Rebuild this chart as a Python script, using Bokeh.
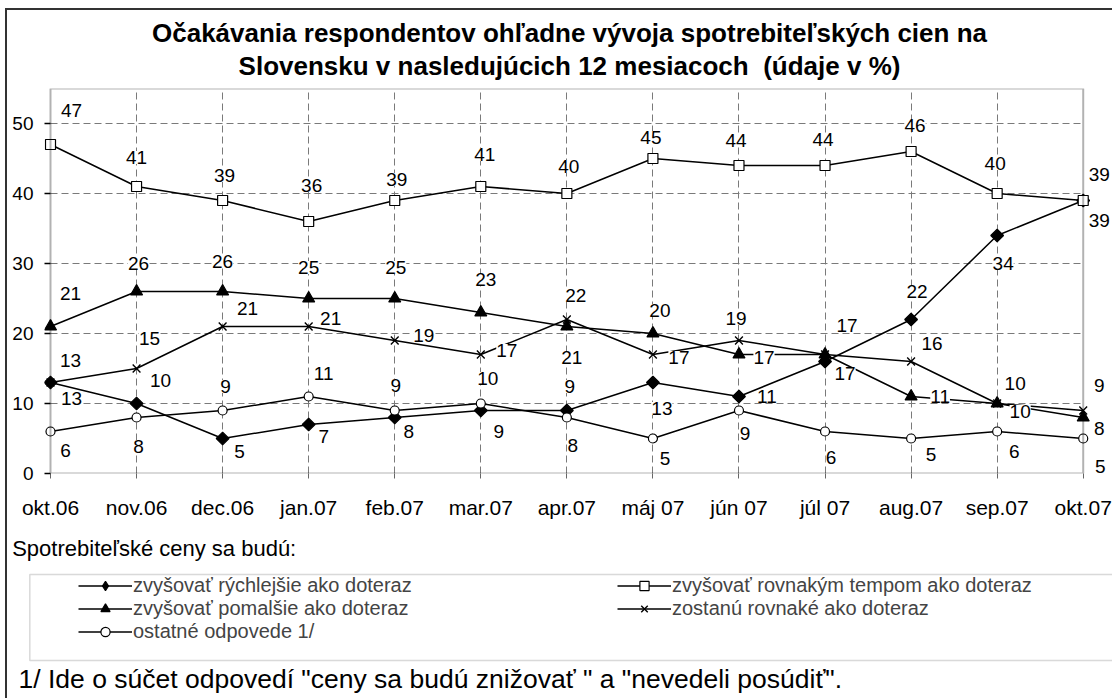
from bokeh.plotting import figure
from bokeh.models import (ColumnDataSource, LabelSet, Label, Legend, LegendItem,
                          BoxAnnotation, FixedTicker, Range1d)
from bokeh.layouts import column, row
from bokeh.embed import file_html
from bokeh.resources import INLINE
from bokeh.core.properties import value
import math

# ---------------- data ----------------
months = ["okt.06", "nov.06", "dec.06", "jan.07", "feb.07", "mar.07", "apr.07",
          "máj 07", "jún 07", "júl 07", "aug.07", "sep.07", "okt.07"]
faster = [13, 10, 5, 7, 8, 9, 9, 13, 11, 16, 22, 34, 39]        # zvyšovať rýchlejšie
same_pace = [47, 41, 39, 36, 39, 41, 40, 45, 44, 44, 46, 40, 39]  # rovnakým tempom
slower = [21, 26, 26, 25, 25, 23, 21, 20, 17, 17, 11, 10, 8]      # pomalšie
unchanged = [13, 15, 21, 21, 19, 17, 22, 17, 19, 17, 16, 10, 9]   # zostanú rovnaké
other = [6, 8, 9, 11, 9, 10, 8, 5, 9, 6, 5, 6, 5]                 # ostatné odpovede
y_ticks = [0, 10, 20, 30, 40, 50]
Y_MAX = 55

names = ["zvyšovať rýchlejšie ako doteraz", "zvyšovať rovnakým tempom ako doteraz",
         "zvyšovať pomalšie ako doteraz", "zostanú rovnaké ako doteraz",
         "ostatné odpovede 1/"]
title1 = "Očakávania respondentov ohľadne vývoja spotrebiteľských cien na"
title2 = "Slovensku v nasledujúcich 12 mesiacoch \u00a0(údaje v %)"
subhead = "Spotrebiteľské ceny sa budú:"
footnote = '1/ Ide o súčet odpovedí "ceny sa budú znižovať " a "nevedeli posúdiť".'

# ---------------- label placement (pixel offsets: dx right, dy up) ----------------
pos_faster = [(21, -16), (24, 23), (17, -13), (15, -12), (14, -14), (18, -21), (3, 24),
              (9, -26), (28, 0), None, (6, 28), (6, -28), (16, -20)]
pos_same = [(21, 34), (0, 29), (2, 25), (3, 36), (2, 21), (4, 32), (2, 27), (-2, 21),
            (-3, 25), (-2, 26), (4, 26), (-2, 30), (16, 26)]
pos_slower = [(20, 33), (2, 28), (0, 30), (0, 31), (1, 31), (5, 33), (5, -31), (7, 23),
              (25, -3), (20, -19), (29, 0), (23, -8), (16, -11)]
pos_unch = [(20, 22), (13, 30), (25, 18), (22, 8), (29, 5), (26, 4), (9, 24), (26, -3),
            (-3, 22), (22, 29), (21, 18), (18, 20), (16, 25)]
pos_other = [(15, -19), (2, -29), (3, 24), (15, 23), (1, 25), (7, 25), (6, -28), (12, -20),
             (6, -23), (6, -26), (20, -16), (17, -20), (17, -28)]

FONT = "Liberation Sans"
xs = list(range(len(months)))
W = 1105
LEFT = 37                       # canvas px left of the plot frame
PX = 86.06                      # pixels per category step
X0 = -6 / PX
X1 = X0 + (W - LEFT) / PX


def panel(height):
    """A blank strip whose data space is plain pixels (for texts around the chart)."""
    f = figure(width=W, height=height, output_backend="svg", toolbar_location=None,
               x_axis_location=None, y_axis_location=None,
               x_range=Range1d(0, W), y_range=Range1d(0, height),
               min_border_left=0, min_border_right=0, min_border_top=0,
               min_border_bottom=0)
    f.grid.visible = False
    f.outline_line_color = None
    f.background_fill_color = "white"
    f.border_fill_color = "white"
    if "frame_align" in f.properties():
        f.frame_align = False
    return f


# ================= title strip =================
TH = 70
h = panel(TH)
h.add_layout(Label(x=562, y=TH - 22, text=title1, text_align="center",
                   text_baseline="middle", text_font=FONT, text_font_size="26px",
                   text_font_style="bold", text_color="black"))
h.add_layout(Label(x=562, y=TH - 55, text=title2, text_align="center",
                   text_baseline="middle", text_font=FONT, text_font_size="26px",
                   text_font_style="bold", text_color="black"))

# ================= main chart =================
p = figure(width=W, height=445, output_backend="svg", toolbar_location=None,
           title=None, x_range=Range1d(X0, X1), y_range=Range1d(0, Y_MAX),
           min_border_left=LEFT, min_border_right=0, min_border_top=8,
           min_border_bottom=52)
p.background_fill_color = "white"
p.border_fill_color = "white"
p.outline_line_color = None
if "frame_align" in p.properties():
    p.frame_align = False

# axes
p.xaxis.ticker = FixedTicker(ticks=xs)
p.xaxis.major_label_overrides = {i: m for i, m in enumerate(months)}
p.yaxis.ticker = FixedTicker(ticks=y_ticks)
for ax in (p.xaxis, p.yaxis):
    ax.axis_line_color = None
    ax.minor_tick_line_color = None
    ax.major_label_text_font = FONT
    ax.major_label_text_color = "black"
p.xaxis.major_label_text_font_size = "21px"
p.yaxis.major_label_text_font_size = "19px"
p.xaxis.major_tick_in = 0
p.xaxis.major_tick_out = 5
p.xaxis.major_tick_line_color = "#666666"
p.xaxis.major_label_standoff = 17
p.yaxis.major_tick_in = 6
p.yaxis.major_tick_out = 0
p.yaxis.major_tick_line_color = "black"
p.yaxis.major_tick_line_width = 1.5
p.yaxis.major_label_standoff = 11

# grid
p.xgrid.ticker = FixedTicker(ticks=xs[1:-1])
p.xgrid.grid_line_color = "#7a7a7a"
p.xgrid.grid_line_dash = "7 4"
p.ygrid.grid_line_color = None
p.segment(x0=xs[0], x1=xs[-1], y0=y_ticks[1:], y1=y_ticks[1:],
          line_color="#7a7a7a", line_dash="7 4", line_width=1)

# plot-area box (axes lines) in data space
p.add_layout(BoxAnnotation(left=xs[0], right=xs[-1], bottom=0, top=Y_MAX,
                           fill_alpha=0, line_color="black", line_width=2))

LW = 1.5
series = [
    ("faster", faster, dict(marker="square", size=9, angle=math.pi / 4, fill_color="black"), pos_faster),
    ("same", same_pace, dict(marker="square", size=10, fill_color="white"), pos_same),
    ("slower", slower, dict(marker="triangle", size=12, fill_color="black"), pos_slower),
    ("unch", unchanged, dict(marker="x", size=11, line_width=1.4), pos_unch),
    ("other", other, dict(marker="circle", size=9, fill_color="white"), pos_other),
]

for key, vals, mk, pos in series:
    src = ColumnDataSource(dict(x=xs, y=vals))
    p.line("x", "y", source=src, line_color="black", line_width=LW)
    kw = dict(mk)
    kw.setdefault("line_width", 1.2)
    p.scatter("x", "y", source=src, line_color="black", **kw)

for key, vals, mk, pos in series:
    lx, ly, lt, dx, dy = [], [], [], [], []
    for i, v in enumerate(vals):
        if pos[i] is None:
            continue
        lx.append(xs[i]); ly.append(v); lt.append(str(v))
        dx.append(pos[i][0]); dy.append(pos[i][1])
    lsrc = ColumnDataSource(dict(x=lx, y=ly, t=lt, dx=dx, dy=dy))
    p.add_layout(LabelSet(x="x", y="y", text="t", x_offset="dx", y_offset="dy",
                          source=lsrc, text_align="center", text_baseline="middle",
                          text_font=value(FONT), text_font_size=value("19px"),
                          text_color="black", background_fill_color="white"))

# ================= legend strip =================
LH = 173
q = panel(LH)
q.add_layout(Label(x=4.7, y=150, text=subhead, text_baseline="middle",
                   text_font=FONT, text_font_size="22px", text_color="black"))
q.add_layout(BoxAnnotation(left=22.3, right=W + 10, top=124, bottom=38,
                           fill_alpha=0, line_color="#808080", line_width=1.5))
q.add_layout(Label(x=11, y=20, text=footnote, text_baseline="middle",
                   text_font=FONT, text_font_size="26.5px", text_color="black"))

leg_r = {}
for key, vals, mk, pos in series:
    e = ColumnDataSource(dict(x=[float("nan")], y=[float("nan")]))
    lr = q.line("x", "y", source=e, line_color="black", line_width=LW)
    kw = dict(mk)
    kw.pop("angle", None)
    if key == "faster":
        kw["marker"] = "diamond"
    kw.setdefault("line_width", 1.2)
    sr = q.scatter("x", "y", source=e, line_color="black", **kw)
    leg_r[key] = [lr, sr]

idx = {"faster": 0, "same": 1, "slower": 2, "unch": 3, "other": 4}
legend_rows = [(["faster", "same"], 101.5), (["slower", "unch"], 78.5), (["other"], 55.5)]
for keys, ybot in legend_rows:
    lg = Legend(items=[LegendItem(label=names[idx[k]], renderers=leg_r[k]) for k in keys],
                location=(71, ybot), orientation="horizontal",
                glyph_width=54, glyph_height=23, label_standoff=1, label_width=484,
                spacing=0, padding=0, margin=0,
                label_text_font=FONT, label_text_font_size="20px",
                border_line_alpha=0, background_fill_alpha=0)
    q.add_layout(lg, "center")

layout = column(row(h), p, row(q), spacing=0,
                styles={"border-left": "2px solid #333333", "border-top": "2px solid #333333",
                        "margin-left": "5px", "margin-top": "8px"})

open("out.html", "w").write(file_html(layout, INLINE))
